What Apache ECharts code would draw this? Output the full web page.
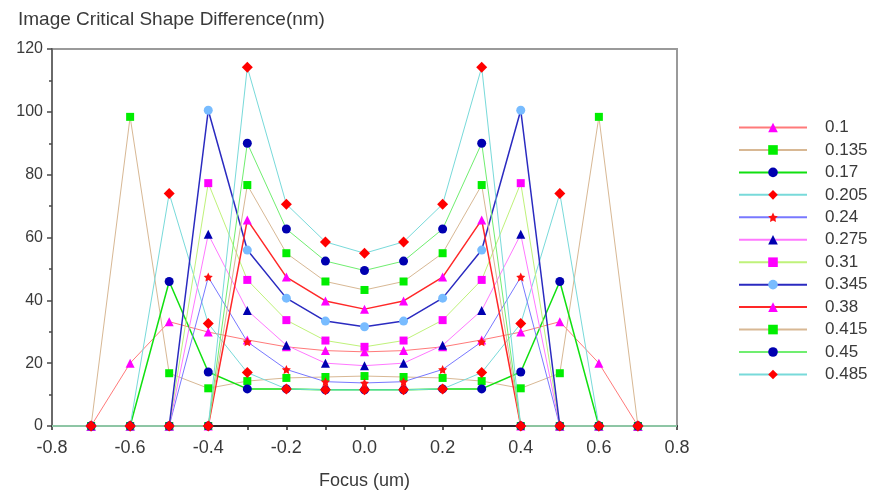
<!DOCTYPE html>
<html>
<head>
<meta charset="utf-8">
<script src="https://cdn.jsdelivr.net/npm/echarts@6/dist/echarts.min.js"></script>
<style>
  html, body { margin: 0; padding: 0; background: #ffffff; }
  #chart { width: 877px; height: 495px; }
</style>
</head>
<body>
<div id="chart"></div>
<script>
// Focus positions (um)
const focus = [-0.8, -0.7, -0.6, -0.5, -0.4, -0.3, -0.2, -0.1, 0.0, 0.1, 0.2, 0.3, 0.4, 0.5, 0.6, 0.7, 0.8];

// Series names (sigma values)
const sigmas = ['0.1', '0.135', '0.17', '0.205', '0.24', '0.275', '0.31', '0.345', '0.38', '0.415', '0.45', '0.485'];

// Image critical shape difference (nm) at each focus position
const s0100 = [0, 0, 20, 33.2, 29.9, 27.4, 25.2, 24.0, 23.6, 24.0, 25.2, 27.4, 29.9, 33.2, 20, 0, 0];
const s0135 = [0, 0, 98.4, 16.8, 12.0, 14.3, 15.3, 15.6, 15.9, 15.6, 15.3, 14.3, 12.0, 16.8, 98.4, 0, 0];
const s0170 = [0, 0, 0, 46.0, 17.2, 11.8, 11.8, 11.5, 11.5, 11.5, 11.8, 11.8, 17.2, 46.0, 0, 0, 0];
const s0205 = [0, 0, 0, 74.0, 32.6, 17.0, 11.8, 11.5, 11.5, 11.5, 11.8, 17.0, 32.6, 74.0, 0, 0, 0];
const s0240 = [0, 0, 0, 0, 47.4, 26.8, 18.0, 14.1, 13.7, 14.1, 18.0, 26.8, 47.4, 0, 0, 0, 0];
const s0275 = [0, 0, 0, 0, 61.0, 36.8, 25.7, 20.0, 19.2, 20.0, 25.7, 36.8, 61.0, 0, 0, 0, 0];
const s0310 = [0, 0, 0, 0, 77.3, 46.5, 33.7, 27.2, 25.2, 27.2, 33.7, 46.5, 77.3, 0, 0, 0, 0];
const s0345 = [0, 0, 0, 0, 100.5, 56.0, 40.7, 33.4, 31.6, 33.4, 40.7, 56.0, 100.5, 0, 0, 0, 0];
const s0380 = [0, 0, 0, 0, 0, 65.6, 47.4, 39.8, 37.2, 39.8, 47.4, 65.6, 0, 0, 0, 0, 0];
const s0415 = [0, 0, 0, 0, 0, 76.7, 55.0, 46.0, 43.3, 46.0, 55.0, 76.7, 0, 0, 0, 0, 0];
const s0450 = [0, 0, 0, 0, 0, 90.0, 62.7, 52.5, 49.5, 52.5, 62.7, 90.0, 0, 0, 0, 0, 0];
const s0485 = [0, 0, 0, 0, 0, 114.2, 70.6, 58.6, 55.0, 58.6, 70.6, 114.2, 0, 0, 0, 0, 0];

const values = [s0100, s0135, s0170, s0205, s0240, s0275, s0310, s0345, s0380, s0415, s0450, s0485];

// Axis ticks
const yTicks = { min: 0, max: 120, interval: 20 };
const xTicks = { min: -0.8, max: 0.8, interval: 0.2 };

const STAR = 'path://M0,-10L2.9,-4L9.5,-3.1L4.8,1.5L5.9,8.1L0,5L-5.9,8.1L-4.8,1.5L-9.5,-3.1L-2.9,-4Z';

// Line colour, line width, marker shape, marker colour, marker size per series
const styles = [
  ['#ff7a7a', 1,   'triangle', '#ff00ff', 9],
  ['#d8b894', 1,   'rect',     '#00ee00', 8],
  ['#10e010', 1.5, 'circle',   '#0000b0', 9],
  ['#78dada', 1,   'diamond',  '#ff0000', 11],
  ['#7878ff', 1,   STAR,       '#ff1010', 9],
  ['#ff78ff', 1,   'triangle', '#0000b0', 9],
  ['#bff27a', 1,   'rect',     '#ff00ff', 8],
  ['#2a2ac0', 1.5, 'circle',   '#78bcff', 9],
  ['#ff2828', 1.5, 'triangle', '#ff00ff', 9],
  ['#d8b894', 1,   'rect',     '#00ee00', 8],
  ['#70ee70', 1,   'circle',   '#0000b0', 9],
  ['#78dada', 1,   'diamond',  '#ff0000', 11]
];

const series = sigmas.map((name, i) => {
  const st = styles[i];
  const data = focus.map((x, j) => {
    const item = { value: [x, values[i][j]] };
    if (j === 0 || j === focus.length - 1) item.symbol = 'none';
    return item;
  });
  return {
    name: name,
    type: 'line',
    data: data,
    clip: false,
    symbol: st[2],
    symbolSize: st[4],
    lineStyle: { color: st[0], width: st[1] },
    itemStyle: { color: st[3], borderWidth: 0 },
    emphasis: { disabled: true },
    animation: false
  };
});

const textColor = '#3a3a3a';
const fontFamily = '"Liberation Sans", Arial, sans-serif';

const chart = echarts.init(document.getElementById('chart'), null, { renderer: 'canvas' });
chart.setOption({
  backgroundColor: '#ffffff',
  animation: false,
  textStyle: { fontFamily: fontFamily },
  title: {
    text: 'Image Critical Shape Difference(nm)',
    left: 13,
    top: 5,
    textStyle: { fontSize: 19, fontWeight: 'normal', color: textColor, fontFamily: fontFamily }
  },
  grid: {
    left: 52, right: 200, top: 49, bottom: 69,
    show: true, borderColor: '#9a9a9a', borderWidth: 2, backgroundColor: 'transparent'
  },
  legend: {
    orient: 'vertical',
    left: 733,
    top: 114,
    itemWidth: 68,
    itemHeight: 12,
    itemGap: 5.45,
    data: sigmas,
    textStyle: { fontSize: 17, color: textColor, padding: [0, 0, 0, 13], fontFamily: fontFamily }
  },
  xAxis: {
    type: 'value',
    min: xTicks.min,
    max: xTicks.max,
    interval: xTicks.interval,
    name: 'Focus (um)',
    nameLocation: 'middle',
    nameGap: 46,
    nameTextStyle: { fontSize: 18, color: textColor },
    axisLine: { onZero: false, lineStyle: { color: '#2a2a2a', width: 2 } },
    axisTick: { show: true, length: 4, lineStyle: { color: '#2a2a2a', width: 1.5 } },
    minorTick: { show: true, splitNumber: 2, length: 4, lineStyle: { color: '#2a2a2a', width: 1.5 } },
    splitLine: { show: false },
    axisLabel: {
      fontSize: 18, color: textColor, margin: 13,
      formatter: v => v.toFixed(1)
    }
  },
  yAxis: {
    type: 'value',
    min: yTicks.min,
    max: yTicks.max,
    interval: yTicks.interval,
    axisLine: { show: true, onZero: false, lineStyle: { color: '#6a6a6a', width: 2 } },
    axisTick: { show: true, length: 5, lineStyle: { color: '#4a4a4a', width: 1.5 } },
    minorTick: { show: true, splitNumber: 2, length: 3, lineStyle: { color: '#4a4a4a', width: 1.5 } },
    splitLine: { show: false },
    axisLabel: { fontSize: 16, color: textColor, margin: 9 }
  },
  series: series
});
</script>
</body>
</html>
